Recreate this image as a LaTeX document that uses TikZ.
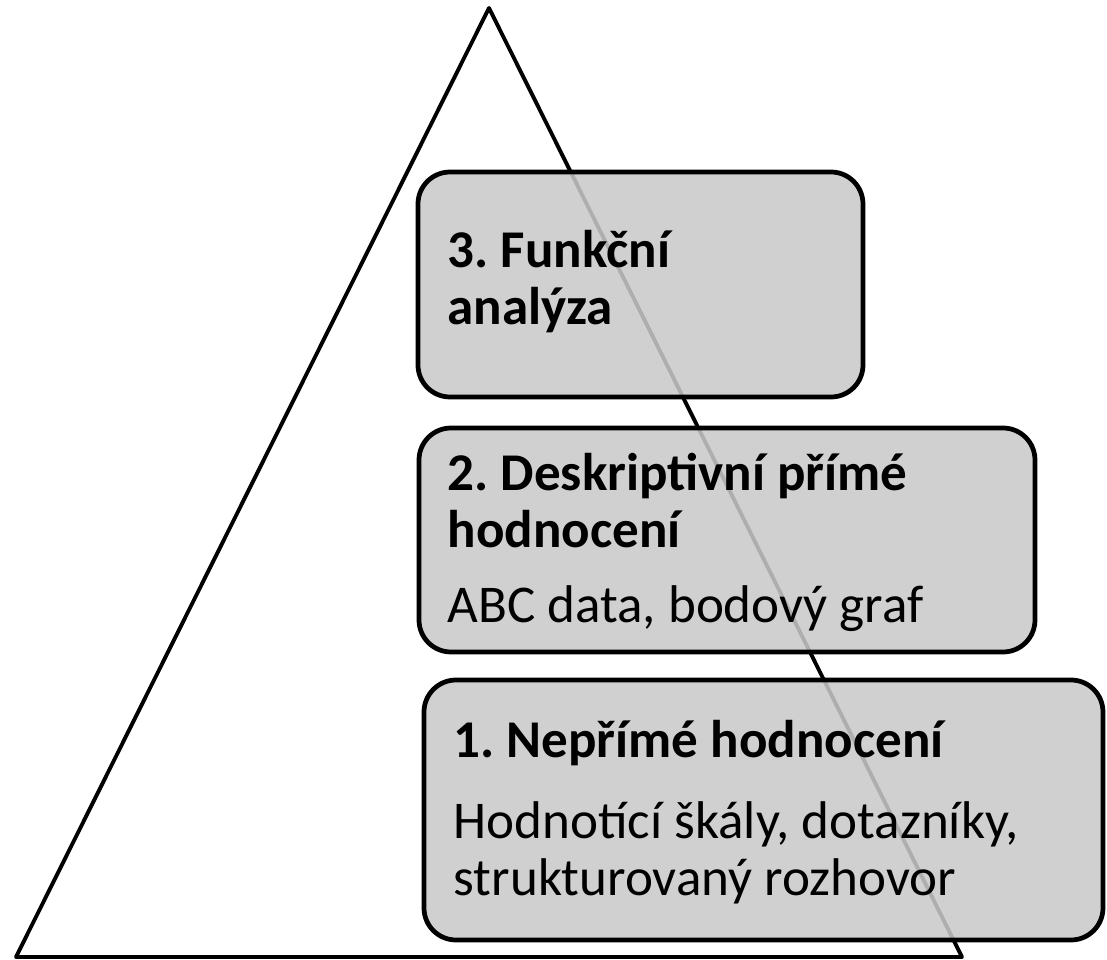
\documentclass[tikz,border=0pt]{standalone}
\usepackage{fontspec}
\setmainfont{Carlito}
\usetikzlibrary{arrows,calc}
\usepackage{tkz-euclide}
\definecolor{BoxClr}{rgb}{0.79,0.79,0.79}
\frenchspacing

\begin{document}
\begin{tikzpicture}[
  levelbox/.style={draw=black,line width=1.35pt,rounded corners=0.32cm,fill=BoxClr,fill opacity=0.87},
  headtxt/.style={anchor=base west,inner sep=0pt,align=left,font=\bfseries\fontsize{15.1}{16.2}\selectfont},
  bodytxt/.style={anchor=base west,inner sep=0pt,align=left,font=\fontsize{15.1}{16.2}\selectfont}]
\useasboundingbox (0,0) rectangle (11.07,9.60);
\tkzSetUpLine[line width=1.1pt,color=black]

\tkzDefPoint(4.89,9.52){A}
\tkzDefPoint(0.16,0.03){B}
\tkzDefPoint(9.62,0.03){C}

\tkzDrawPolygon(A,B,C)

% level boxes
\draw[levelbox] (4.18,7.88) rectangle (8.63,5.63);
\draw[levelbox] (4.19,5.32) rectangle (10.35,3.08);
\draw[levelbox] (4.24,2.80) rectangle (11.03,0.20);

% texts (base = last line)
\node[headtxt] (L3head) at (4.47,6.36) {3. Funkční\\analýza};
\node[headtxt] (L2head) at (4.47,4.13) {2. Deskriptivní přímé\\hodnocení};
\node[bodytxt] (L2body) at (4.47,3.38) {ABC data, bodový graf};
\node[headtxt] (L1head) at (4.53,2.03) {1. Nepřímé hodnocení};
\node[bodytxt] (L1body) at (4.53,0.65) {Hodnotící škály, dotazníky,\\strukturovaný rozhovor};

\end{tikzpicture}
\end{document}
